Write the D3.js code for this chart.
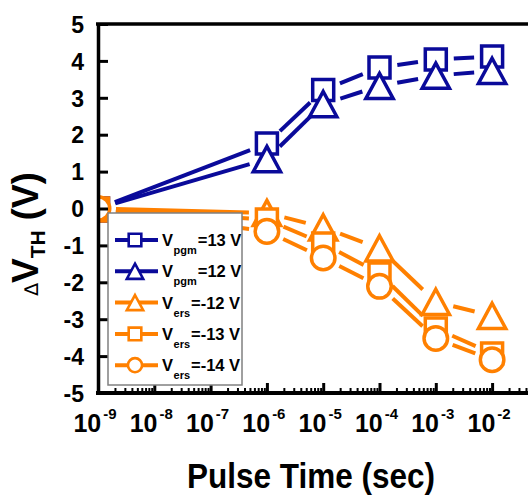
<!DOCTYPE html>
<html>
<head>
<meta charset="utf-8">
<script src="https://cdn.jsdelivr.net/npm/d3@7"></script>
<style>
  html, body { margin: 0; padding: 0; background: #fff; }
  svg { display: block; }
  text { font-family: "Liberation Sans", Arial, sans-serif; font-weight: bold; fill: #000; }
</style>
</head>
<body>
<svg id="chart" width="528" height="500"></svg>
<script>
// Pulse duration (s) and threshold-voltage shift (V) for each bias condition
const pulseTime   = [1e-9, 1e-6, 1e-5, 1e-4, 1e-3, 1e-2];
const dVthPgm13   = [0, 1.76, 3.21, 3.82, 4.04, 4.12];
const dVthPgm12   = [0, 1.34, 2.83, 3.32, 3.60, 3.73];
const dVthErs12   = [0, -0.12, -0.51, -1.08, -2.53, -2.91];
const dVthErs13   = [0, -0.30, -0.95, -1.76, -3.25, -3.93];
const dVthErs14   = [0, -0.62, -1.34, -2.11, -3.52, -4.10];

const seriesMode  = ["pgm", "pgm", "ers", "ers", "ers"];
const seriesBias  = ["=13 V", "=12 V", "=-12 V", "=-13 V", "=-14 V"];
const seriesShape = ["square", "triangle", "triangle", "square", "circle"];
const seriesColor = ["#0a0a9a", "#0a0a9a", "#ff8000", "#ff8000", "#ff8000"];
const seriesData  = [dVthPgm13, dVthPgm12, dVthErs12, dVthErs13, dVthErs14];

const yTicks = [-5, -4, -3, -2, -1, 0, 1, 2, 3, 4, 5];
const xTickExp = [-9, -8, -7, -6, -5, -4, -3, -2, -1];

const series = seriesData.map((vals, i) => ({
  mode: seriesMode[i], bias: seriesBias[i], shape: seriesShape[i], color: seriesColor[i],
  points: vals.map((v, j) => ({ t: pulseTime[j], v }))
}));

const svg = d3.select("#chart");
const W = 528, H = 500;
const plotLeft = 98, plotTop = 24, plotBottom = 393, decadePx = 56.3;

const x = d3.scaleLog().domain([1e-9, 1e-1]).range([plotLeft, plotLeft + 8 * decadePx]);
const y = d3.scaleLinear().domain([-5, 5]).range([plotBottom, plotTop]);

// Marker outlines, centred on the data point
function markerPath(shape, s) {
  const p = d3.path();
  if (shape === "square") {
    p.rect(-s, -s, 2 * s, 2 * s);
  } else if (shape === "triangle") {
    const hw = s * 1.3, hh = s * 1.2;
    p.moveTo(0, -hh); p.lineTo(hw, hh); p.lineTo(-hw, hh); p.closePath();
  } else {
    p.arc(0, 0, s * 1.12, 0, 2 * Math.PI); p.closePath();
  }
  return p.toString();
}

svg.append("defs").append("clipPath").attr("id", "plotClip")
  .append("rect").attr("x", plotLeft - 1).attr("y", plotTop).attr("width", W - plotLeft).attr("height", plotBottom - plotTop);

const plot = svg.append("g").attr("clip-path", "url(#plotClip)");

// Connecting segments, broken short of each marker
const gap = 18;
const line = d3.line();
series.forEach(s => {
  for (let j = 0; j < s.points.length - 1; j++) {
    const a = [x(s.points[j].t), y(s.points[j].v)];
    const b = [x(s.points[j + 1].t), y(s.points[j + 1].v)];
    const dx = b[0] - a[0], dy = b[1] - a[1], len = Math.hypot(dx, dy);
    const ux = dx / len, uy = dy / len;
    plot.append("path")
      .attr("d", line([[a[0] + ux * gap, a[1] + uy * gap], [b[0] - ux * gap, b[1] - uy * gap]]))
      .attr("stroke", s.color).attr("stroke-width", 4).attr("fill", "none");
  }
});

series.forEach(s => {
  plot.selectAll(null).data(s.points).enter().append("path")
    .attr("transform", d => `translate(${x(d.t)},${y(d.v)})`)
    .attr("d", markerPath(s.shape, 10.5))
    .attr("fill", "#fff").attr("stroke", s.color).attr("stroke-width", 3.5);
});

// Axes
const yAxis = svg.append("g").attr("transform", `translate(${plotLeft},0)`)
  .call(d3.axisLeft(y).tickValues(yTicks).tickSize(-10).tickSizeOuter(0).tickPadding(14).tickFormat(d => String(d)));
yAxis.selectAll(".tick line").attr("stroke", "#000").attr("stroke-width", 3);
yAxis.selectAll(".tick text").attr("font-size", 23).attr("font-family", "'Liberation Sans', Arial, sans-serif")
  .attr("font-weight", "bold").attr("dy", "0.36em");
yAxis.select(".domain").attr("stroke", "#000").attr("stroke-width", 3.5);

const majors = xTickExp.map(e => Math.pow(10, e));
const minors = [];
xTickExp.forEach(e => { for (let k = 2; k <= 9; k++) minors.push(k * Math.pow(10, e)); });

const xAxis = svg.append("g").attr("transform", `translate(0,${plotBottom})`)
  .call(d3.axisBottom(x).tickValues(majors).tickSize(-10).tickSizeOuter(0).tickFormat(""));
xAxis.selectAll(".tick line").attr("stroke", "#000").attr("stroke-width", 3);
xAxis.select(".domain").attr("stroke", "#000").attr("stroke-width", 4).attr("d", `M${plotLeft - 2},0H${W}`);

const xMinor = svg.append("g").attr("transform", `translate(0,${plotBottom})`)
  .call(d3.axisBottom(x).tickValues(minors).tickSize(-5).tickSizeOuter(0).tickFormat(""));
xMinor.selectAll(".tick line").attr("stroke", "#000").attr("stroke-width", 2);
xMinor.select(".domain").remove();

// Top frame
svg.append("line").attr("x1", plotLeft - 2).attr("x2", W).attr("y1", plotTop).attr("y2", plotTop)
  .attr("stroke", "#000").attr("stroke-width", 3.5);

// Decade labels with superscript exponents
xTickExp.filter(e => e <= -2).forEach(e => {
  const t = svg.append("text").attr("x", x(Math.pow(10, e)) - 3).attr("y", 432)
    .attr("text-anchor", "middle");
  t.append("tspan").attr("font-size", 25).text("10");
  t.append("tspan").attr("font-size", 15).attr("dx", 2).attr("dy", -13).text(String(e));
});

// Axis titles
svg.append("text").attr("x", 311).attr("y", 488).attr("text-anchor", "middle")
  .attr("font-size", 35).attr("textLength", 248).attr("lengthAdjust", "spacingAndGlyphs")
  .text("Pulse Time (sec)");

const yt = svg.append("text").attr("transform", "translate(38,234) rotate(-90)")
  .attr("text-anchor", "middle");
yt.append("tspan").attr("font-size", 19).attr("font-weight", "normal").attr("font-family", "'DejaVu Sans', sans-serif").text("\u2206");
yt.append("tspan").attr("font-size", 37).text("V");
yt.append("tspan").attr("font-size", 21).attr("dy", 7).text("TH");
yt.append("tspan").attr("font-size", 36).attr("dy", -7).text("\u00a0(V)");

// Legend
const lg = svg.append("g");
lg.append("rect").attr("x", 108).attr("y", 213).attr("width", 134).attr("height", 172)
  .attr("fill", "#fff").attr("stroke", "#808080").attr("stroke-width", 1.5);

series.forEach((s, i) => {
  const cy = 240 + 31.3 * i;
  const row = lg.append("g").attr("transform", `translate(0,${cy})`);
  row.append("line").attr("x1", 115).attr("x2", 158).attr("y1", 0).attr("y2", 0)
    .attr("stroke", s.color).attr("stroke-width", 4);
  row.append("path").attr("transform", "translate(135,0)")
    .attr("d", markerPath(s.shape, 6.3))
    .attr("fill", "#fff").attr("stroke", s.color).attr("stroke-width", 2.6);
  const v = row.append("text").attr("x", 162).attr("y", 6).attr("font-size", 16.5).text("V");
  const subX = 162 + v.node().getComputedTextLength() + 0.5;
  const sub = row.append("text").attr("x", subX).attr("y", 14).attr("font-size", 11).text(s.mode);
  const subEnd = subX + sub.node().getComputedTextLength();
  row.append("text").attr("x", subEnd + 1).attr("y", 6).attr("font-size", 16.5).text(s.bias);
});
</script>
</body>
</html>
